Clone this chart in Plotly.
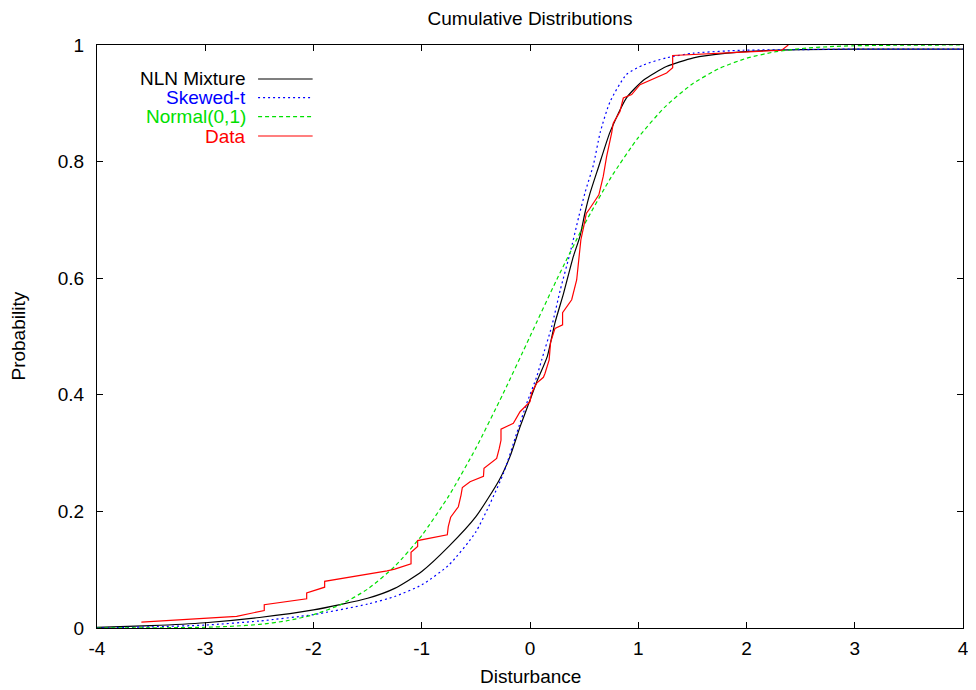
import plotly.graph_objects as go

# ---- data ----
series_names = ["NLN Mixture", "Skewed-t", "Normal(0,1)", "Data"]

nln_x = [-4.0, -3.5, -3.0, -2.5, -2.0, -1.5, -1.25, -1.0, -0.75, -0.5, -0.284, -0.185, -0.092,
         0.0, 0.062, 0.16, 0.23, 0.31, 0.40, 0.46, 0.51, 0.55, 0.63, 0.74, 0.89, 1.05, 1.26,
         1.51, 1.82, 2.13, 2.5, 3.0, 4.0]
nln_y = [0.001, 0.004, 0.009, 0.018, 0.031, 0.051, 0.068, 0.097, 0.14, 0.191, 0.254, 0.294, 0.345,
         0.391, 0.422, 0.466, 0.523, 0.574, 0.637, 0.671, 0.714, 0.743, 0.789, 0.851, 0.909, 0.94,
         0.963, 0.978, 0.986, 0.99, 0.992, 0.993, 0.993]

skt_x = [-4.0, -3.5, -3.0, -2.5, -2.0, -1.5, -1.25, -1.0, -0.75, -0.5, -0.246, -0.123, -0.031,
         0.062, 0.108, 0.2, 0.28, 0.37, 0.45, 0.51, 0.585, 0.65, 0.74, 0.89, 1.05, 1.26, 1.51,
         1.97, 2.5, 3.0, 4.0]
skt_y = [0.0, 0.002, 0.005, 0.012, 0.023, 0.041, 0.054, 0.074, 0.108, 0.165, 0.265, 0.334, 0.385,
         0.431, 0.46, 0.517, 0.58, 0.643, 0.705, 0.748, 0.794, 0.851, 0.903, 0.949, 0.966, 0.978,
         0.986, 0.991, 0.992, 0.993, 0.993]

nrm_x = [-4, -3.75, -3.5, -3.25, -3, -2.75, -2.5, -2.25, -2, -1.75, -1.5, -1.25, -1, -0.75,
         -0.5, -0.25, 0, 0.25, 0.5, 0.75, 1, 1.25, 1.5, 1.75, 2, 2.25, 2.5, 2.75, 3, 3.5, 4]
nrm_y = [0.0, 0.0001, 0.0002, 0.0006, 0.0013, 0.003, 0.0062, 0.0122, 0.0228, 0.0401, 0.0668,
         0.1056, 0.1587, 0.2266, 0.3085, 0.4013, 0.5, 0.5987, 0.6915, 0.7734, 0.8413, 0.8944,
         0.9332, 0.9599, 0.9772, 0.9878, 0.9938, 0.997, 0.9987, 0.9998, 1.0]

data_x = [-3.59, -2.71, -2.455, -2.455, -2.063, -2.063, -1.897, -1.897, -1.32, -1.25, -1.099,
          -1.099, -1.038, -1.038, -0.764, -0.755, -0.733, -0.662, -0.637, -0.625, -0.554, -0.43,
          -0.425, -0.308, -0.284, -0.268, -0.268, -0.154, -0.092, 0.0, 0.015, 0.062, 0.124,
          0.139, 0.177, 0.19, 0.231, 0.301, 0.301, 0.385, 0.431, 0.453, 0.47, 0.499, 0.52, 0.554,
          0.636, 0.677, 0.708, 0.754, 0.769, 0.831, 0.862, 0.939, 1.016, 1.262, 1.318, 1.318,
          2.325, 2.386]
data_y = [0.01, 0.02, 0.03, 0.04, 0.05, 0.06, 0.07, 0.08, 0.098, 0.101, 0.11,
          0.13, 0.14, 0.15, 0.16, 0.174, 0.19, 0.208, 0.228, 0.241, 0.251, 0.26,
          0.274, 0.291, 0.308, 0.322, 0.341, 0.351, 0.371, 0.388, 0.403, 0.42, 0.43,
          0.437, 0.46, 0.49, 0.514, 0.52, 0.541, 0.563, 0.597, 0.643, 0.666, 0.691, 0.711, 0.72,
          0.743, 0.775, 0.809, 0.849, 0.866, 0.886, 0.909, 0.915, 0.932, 0.952, 0.961, 0.982,
          0.991, 1.0]

x_tickvals = [-4, -3, -2, -1, 0, 1, 2, 3, 4]
x_ticktext = ["-4", "-3", "-2", "-1", "0", "1", "2", "3", "4"]
y_tickvals = [0, 0.2, 0.4, 0.6, 0.8, 1]
y_ticktext = ["0", "0.2", "0.4", "0.6", "0.8", "1"]

# ---- styling ----
colors = ["#000000", "#0000ff", "#00e000", "#ff0000"]
dashes = ["solid", "2px,3px", "4px,3px", "solid"]
FONT = "Liberation Sans, Arial, Helvetica, sans-serif"
FS = 19
W, H = 968, 682   # page body has an 8px margin

fig = go.Figure()
curves = [(nln_x, nln_y, "spline"), (skt_x, skt_y, "spline"),
          (nrm_x, nrm_y, "spline"), (data_x, data_y, "linear")]
for (xs, ys, shape), name, c, d in zip(curves, series_names, colors, dashes):
    fig.add_trace(go.Scatter(x=xs, y=ys, mode="lines", name=name,
                             line=dict(color=c, width=1.2, dash=d, shape=shape,
                                       smoothing=0.6 if shape == "spline" else None),
                             showlegend=False))

# legend (gnuplot-style: right-aligned coloured text, then sample line)
leg_rows_y = [0.9417, 0.9096, 0.877, 0.8439]
for name, c, d, yy in zip(series_names, colors, dashes, leg_rows_y):
    fig.add_annotation(x=0.174, y=yy, xref="paper", yref="paper", text=name,
                       showarrow=False, xanchor="right", yanchor="middle",
                       font=dict(family=FONT, size=FS, color=c))
    fig.add_shape(type="line", xref="paper", yref="paper", x0=0.186, x1=0.249,
                  y0=yy, y1=yy, line=dict(color=c, width=1.2, dash=d))

# axis titles
fig.add_annotation(x=0.5, y=-0.0835, xref="paper", yref="paper", text="Disturbance",
                   showarrow=False, xanchor="center", yanchor="middle",
                   font=dict(family=FONT, size=FS, color="black"))
fig.add_annotation(x=-0.0912, y=0.5, xref="paper", yref="paper", text="Probability",
                   showarrow=False, xanchor="center", yanchor="middle", textangle=-90,
                   font=dict(family=FONT, size=FS, color="black"))

axis_common = dict(showline=True, linecolor="black", linewidth=1, mirror="ticks",
                   ticks="inside", ticklen=6, tickcolor="black", tickwidth=1,
                   showgrid=False, zeroline=False, automargin=False,
                   tickfont=dict(family=FONT, size=FS, color="black"))

fig.update_layout(
    width=W, height=H,
    margin=dict(l=89, r=13, t=37, b=62, autoexpand=False),
    paper_bgcolor="white", plot_bgcolor="white",
    title=dict(text="Cumulative Distributions", x=0.5, xref="paper", xanchor="center",
               y=1 - 10 / H, yref="container", yanchor="middle",
               font=dict(family=FONT, size=FS, color="black")),
    xaxis=dict(range=[-4, 4], tickvals=x_tickvals, ticktext=x_ticktext,
               ticklabelstandoff=3, **axis_common),
    yaxis=dict(range=[0, 1], tickvals=y_tickvals, ticktext=y_ticktext,
               ticklabelstandoff=8, **axis_common),
    showlegend=False,
)

fig.write_html("out.html")
